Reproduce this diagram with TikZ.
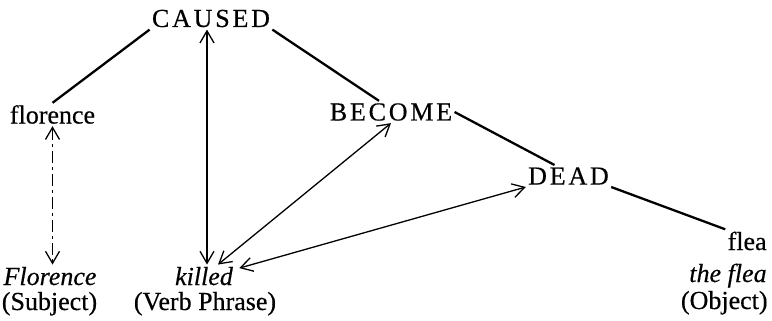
\documentclass[tikz,border=0pt]{standalone}
\usepackage{fontspec}
\setmainfont{Liberation Serif}[FakeBold=0.4]
\usetikzlibrary{arrows.meta}
\newcommand{\lsp}{\kern1.4pt}
\begin{document}
\begin{tikzpicture}[x=0.5pt,y=-0.5pt,
  every node/.style={inner sep=1pt,font=\fontsize{13}{15}\selectfont},
  tree/.style={line width=1.15pt},
  link/.style={line width=0.65pt,{Straight Barb[length=6pt,width=7pt]}-{Straight Barb[length=6pt,width=7pt]}}]
  \useasboundingbox (0,0) rectangle (772,321);
  % semantic tree
  \node (caused) at (211,18.5) {C\lsp A\lsp U\lsp S\lsp E\lsp D};
  \node (florence) at (52.5,114.5) {florence};
  \node (become) at (391,112) {B\lsp E\lsp C\lsp O\lsp M\lsp E};
  \node (dead) at (568.5,176) {D\lsp E\lsp A\lsp D};
  \node[anchor=base east] (flea) at (769,250) {flea};
  % surface words
  \node[anchor=base east] (theflea) at (769,282) {\textit{the flea}};
  \node[anchor=base east] (object) at (770,309) {(Object)};
  \node[anchor=base] (Florence) at (50,285) {\textit{Florence}};
  \node[anchor=base] (subject) at (49.5,310) {(Subject)};
  \node[anchor=base] (killed) at (204,285) {\textit{killed}};
  \node[anchor=base] (verb) at (205,310) {(Verb Phrase)};
  \draw[tree] (caused.south west) -- (florence.north);
  \draw[tree] (caused.south east) -- ([xshift=-6pt]become.north);
  \draw[tree] (become.east) -- ([xshift=-7pt]dead.north);
  \draw[tree] (dead.south east) -- (flea.north west);
  % correspondences
  \draw[link, dash pattern=on 6pt off 2pt on 1.5pt off 2pt] (florence.south) -- (florence.south |- Florence.north);
  \draw[link] ([xshift=-2pt]caused.south) -- ([xshift=-2pt]caused.south |- killed.north);
  \draw[link] ([xshift=7pt]killed.north) -- (become.south);
  \draw[link] ([xshift=2pt,yshift=4pt]killed.east) -- (dead.south west);
\end{tikzpicture}
\end{document}
